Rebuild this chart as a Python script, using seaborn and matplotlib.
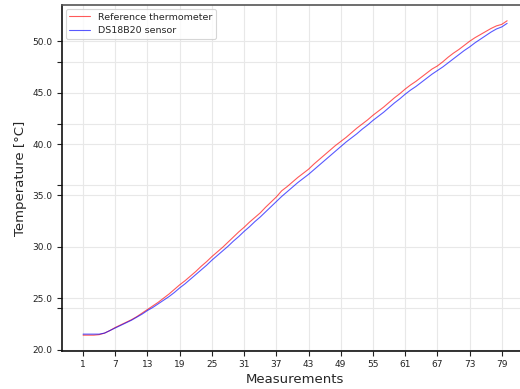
import numpy as np
import pandas as pd
import seaborn as sns
import matplotlib
matplotlib.use("Agg")
import matplotlib.pyplot as plt
from matplotlib.ticker import FixedLocator, FormatStrFormatter

measurements = list(range(1, 81))

reference_temp = [
    21.40, 21.40, 21.40, 21.45, 21.60, 21.85, 22.15, 22.40, 22.65, 22.90,
    23.20, 23.55, 23.90, 24.25, 24.60, 25.00, 25.40, 25.85, 26.30, 26.70,
    27.15, 27.60, 28.10, 28.55, 29.05, 29.50, 29.95, 30.45, 30.95, 31.45,
    31.90, 32.40, 32.85, 33.30, 33.85, 34.35, 34.85, 35.45, 35.85, 36.30,
    36.75, 37.15, 37.55, 38.05, 38.50, 38.95, 39.40, 39.85, 40.25, 40.65,
    41.10, 41.55, 41.95, 42.35, 42.80, 43.20, 43.60, 44.05, 44.50, 44.90,
    45.35, 45.75, 46.10, 46.50, 46.90, 47.30, 47.60, 48.00, 48.45, 48.85,
    49.20, 49.60, 50.00, 50.35, 50.65, 50.95, 51.25, 51.50, 51.65, 52.00,
]

sensor_temp = [
    21.50, 21.50, 21.50, 21.50, 21.60, 21.85, 22.10, 22.35, 22.60, 22.85,
    23.15, 23.45, 23.80, 24.10, 24.45, 24.80, 25.15, 25.55, 26.00, 26.40,
    26.85, 27.30, 27.75, 28.20, 28.70, 29.15, 29.60, 30.05, 30.55, 31.00,
    31.50, 31.95, 32.45, 32.90, 33.40, 33.90, 34.40, 34.90, 35.35, 35.80,
    36.25, 36.65, 37.05, 37.50, 37.95, 38.40, 38.85, 39.30, 39.75, 40.20,
    40.60, 41.00, 41.45, 41.85, 42.30, 42.70, 43.10, 43.55, 44.00, 44.40,
    44.85, 45.25, 45.60, 46.00, 46.40, 46.80, 47.15, 47.50, 47.90, 48.30,
    48.70, 49.10, 49.45, 49.85, 50.20, 50.55, 50.90, 51.20, 51.40, 51.75,
]

series_names = ["Reference thermometer", "DS18B20 sensor"]
x_ticks = list(range(1, 81, 6))
y_major = list(range(20, 51, 5))
y_minor = list(range(24, 49, 6))

df = pd.DataFrame({
    "Measurements": measurements * 2,
    "Temperature": reference_temp + sensor_temp,
    "Source": [series_names[0]] * 80 + [series_names[1]] * 80,
})

sns.set_style("whitegrid", {
    "grid.color": "#e8e8e8",
    "axes.edgecolor": "#222222",
    "xtick.bottom": True,
    "ytick.left": True,
})
plt.rcParams.update({
    "font.family": ["DejaVu Sans"],
    "xtick.labelsize": 6.5,
    "ytick.labelsize": 6.5,
    "xtick.color": "#222222",
    "ytick.color": "#222222",
    "xtick.major.size": 3.5,
    "ytick.major.size": 3.5,
    "ytick.minor.size": 3.5,
    "legend.fontsize": 6.8,
})

fig = plt.figure(figsize=(5.2, 3.89), dpi=100)
ax = fig.add_axes([0.119, 0.098, 0.897, 0.889])

sns.lineplot(
    data=df, x="Measurements", y="Temperature", hue="Source",
    palette=["red", "blue"], linewidth=0.8, alpha=0.65, ax=ax,
)

ax.set_xticks(x_ticks)
ax.yaxis.set_major_locator(FixedLocator(y_major))
ax.yaxis.set_minor_locator(FixedLocator(y_minor))
ax.yaxis.set_major_formatter(FormatStrFormatter("%.1f"))
ax.grid(True, which="major", color="#e8e8e8", linewidth=0.8)
ax.grid(True, which="minor", axis="y", color="#e8e8e8", linewidth=0.8)
ax.tick_params(axis="both", which="both", direction="out", pad=3, width=0.8)

for side in ["left", "bottom"]:
    ax.spines[side].set_color("#111111")
    ax.spines[side].set_linewidth(1.2)
ax.spines["top"].set_color("#555555")
ax.spines["top"].set_linewidth(1.2)

ax.set_xlabel("Measurements", fontsize=9.5, labelpad=3)
ax.set_ylabel("Temperature [°C]", fontsize=9.5, labelpad=4)

leg = ax.legend(loc="upper left", frameon=True, handlelength=2.2,
                borderaxespad=0.4)
leg.get_frame().set_edgecolor("#cccccc")
leg.get_frame().set_linewidth(0.8)
for h in leg.get_lines():
    h.set_linewidth(0.8)

fig.savefig("out.png", dpi=100, facecolor="white")
